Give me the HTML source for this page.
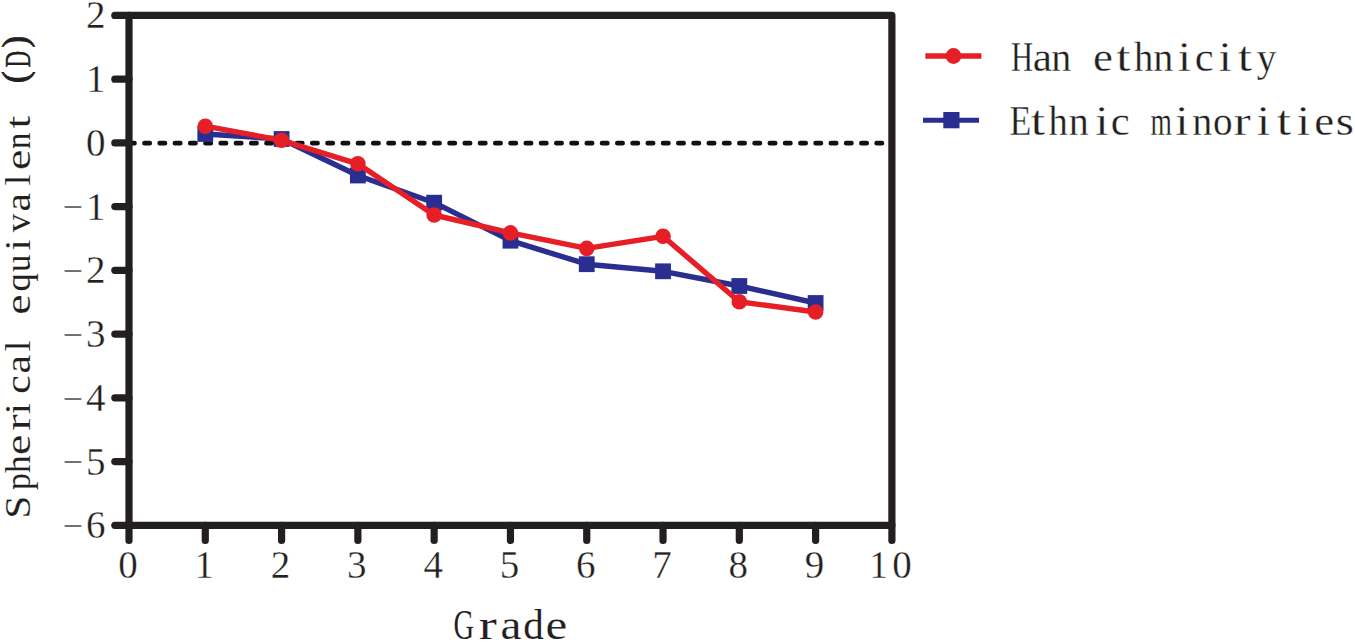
<!DOCTYPE html>
<html><head><meta charset="utf-8"><title>Spherical equivalent by grade</title>
<style>
html,body{margin:0;padding:0;background:#fff;}
body{width:1355px;height:642px;overflow:hidden;}
svg{display:block;}
text{font-family:"Liberation Serif", serif;fill:#231f20;}
.lg{stroke:#fff;stroke-width:0.3px;}
.yl{stroke:#fff;stroke-width:0.1px;}
.tk{stroke:#fff;stroke-width:0.3px;}
.gr{stroke:#fff;stroke-width:0.1px;}
.mn{fill:#333;stroke:#fff;stroke-width:0.55px;}
.pb{stroke:#231f20;stroke-width:0.9px;}
.db{stroke:#231f20;stroke-width:0.4px;}
</style></head>
<body>
<svg width="1355" height="642" viewBox="0 0 1355 642">
<rect width="1355" height="642" fill="#fff"/>
<line x1="126.85" y1="143.18" x2="891" y2="143.18" stroke="#111" stroke-width="4.7" stroke-linecap="round" stroke-dasharray="5.3 9.954" stroke-dashoffset="-2.35"/>
<path d="M129.0,525.3 L129.0,15.4 L891.9,15.4 L891.9,525.3 Z" fill="none" stroke="#231f20" stroke-width="7.2" stroke-linejoin="round"/>
<line x1="114.8" y1="525.30" x2="129.0" y2="525.30" stroke="#231f20" stroke-width="7.2" stroke-linecap="round"/>
<line x1="114.8" y1="461.56" x2="129.0" y2="461.56" stroke="#231f20" stroke-width="7.2" stroke-linecap="round"/>
<line x1="114.8" y1="397.82" x2="129.0" y2="397.82" stroke="#231f20" stroke-width="7.2" stroke-linecap="round"/>
<line x1="114.8" y1="334.09" x2="129.0" y2="334.09" stroke="#231f20" stroke-width="7.2" stroke-linecap="round"/>
<line x1="114.8" y1="270.35" x2="129.0" y2="270.35" stroke="#231f20" stroke-width="7.2" stroke-linecap="round"/>
<line x1="114.8" y1="206.61" x2="129.0" y2="206.61" stroke="#231f20" stroke-width="7.2" stroke-linecap="round"/>
<line x1="114.8" y1="142.88" x2="129.0" y2="142.88" stroke="#231f20" stroke-width="7.2" stroke-linecap="round"/>
<line x1="114.8" y1="79.14" x2="129.0" y2="79.14" stroke="#231f20" stroke-width="7.2" stroke-linecap="round"/>
<line x1="114.8" y1="15.40" x2="129.0" y2="15.40" stroke="#231f20" stroke-width="7.2" stroke-linecap="round"/>
<line x1="129.00" y1="525.3" x2="129.00" y2="540.5" stroke="#231f20" stroke-width="7.2" stroke-linecap="round"/>
<line x1="205.29" y1="525.3" x2="205.29" y2="540.5" stroke="#231f20" stroke-width="7.2" stroke-linecap="round"/>
<line x1="281.58" y1="525.3" x2="281.58" y2="540.5" stroke="#231f20" stroke-width="7.2" stroke-linecap="round"/>
<line x1="357.87" y1="525.3" x2="357.87" y2="540.5" stroke="#231f20" stroke-width="7.2" stroke-linecap="round"/>
<line x1="434.16" y1="525.3" x2="434.16" y2="540.5" stroke="#231f20" stroke-width="7.2" stroke-linecap="round"/>
<line x1="510.45" y1="525.3" x2="510.45" y2="540.5" stroke="#231f20" stroke-width="7.2" stroke-linecap="round"/>
<line x1="586.74" y1="525.3" x2="586.74" y2="540.5" stroke="#231f20" stroke-width="7.2" stroke-linecap="round"/>
<line x1="663.03" y1="525.3" x2="663.03" y2="540.5" stroke="#231f20" stroke-width="7.2" stroke-linecap="round"/>
<line x1="739.32" y1="525.3" x2="739.32" y2="540.5" stroke="#231f20" stroke-width="7.2" stroke-linecap="round"/>
<line x1="815.61" y1="525.3" x2="815.61" y2="540.5" stroke="#231f20" stroke-width="7.2" stroke-linecap="round"/>
<line x1="891.90" y1="525.3" x2="891.90" y2="540.5" stroke="#231f20" stroke-width="7.2" stroke-linecap="round"/>
<polyline points="205.29,134.00 281.58,139.00 357.87,175.50 434.16,202.70 510.45,240.70 586.74,264.20 663.03,271.30 739.32,286.00 815.61,303.00" fill="none" stroke="#2a2e90" stroke-width="5.4" stroke-linejoin="round"/>
<rect x="197.39" y="126.10" width="15.8" height="15.8" fill="#2a2e90"/>
<rect x="273.68" y="131.10" width="15.8" height="15.8" fill="#2a2e90"/>
<rect x="349.97" y="167.60" width="15.8" height="15.8" fill="#2a2e90"/>
<rect x="426.26" y="194.80" width="15.8" height="15.8" fill="#2a2e90"/>
<rect x="502.55" y="232.80" width="15.8" height="15.8" fill="#2a2e90"/>
<rect x="578.84" y="256.30" width="15.8" height="15.8" fill="#2a2e90"/>
<rect x="655.13" y="263.40" width="15.8" height="15.8" fill="#2a2e90"/>
<rect x="731.42" y="278.10" width="15.8" height="15.8" fill="#2a2e90"/>
<rect x="807.71" y="295.10" width="15.8" height="15.8" fill="#2a2e90"/>
<polyline points="205.29,126.20 281.58,140.30 357.87,163.80 434.16,215.00 510.45,232.90 586.74,248.40 663.03,236.30 739.32,301.80 815.61,312.00" fill="none" stroke="#e61f27" stroke-width="5.4" stroke-linejoin="round"/>
<circle cx="205.29" cy="126.20" r="7.8" fill="#e61f27"/>
<circle cx="281.58" cy="140.30" r="7.8" fill="#e61f27"/>
<circle cx="357.87" cy="163.80" r="7.8" fill="#e61f27"/>
<circle cx="434.16" cy="215.00" r="7.8" fill="#e61f27"/>
<circle cx="510.45" cy="232.90" r="7.8" fill="#e61f27"/>
<circle cx="586.74" cy="248.40" r="7.8" fill="#e61f27"/>
<circle cx="663.03" cy="236.30" r="7.8" fill="#e61f27"/>
<circle cx="739.32" cy="301.80" r="7.8" fill="#e61f27"/>
<circle cx="815.61" cy="312.00" r="7.8" fill="#e61f27"/>
<line x1="925.4" y1="56" x2="981.4" y2="56" stroke="#e61f27" stroke-width="5.4"/>
<circle cx="953.5" cy="56" r="7.9" fill="#e61f27"/>
<line x1="923" y1="120.2" x2="979" y2="120.2" stroke="#2a2e90" stroke-width="5"/>
<rect x="943.3" y="112" width="16.2" height="16.3" fill="#2a2e90"/>
<text class="lg" font-size="43"><tspan x="1010.97" y="70.60" textLength="22.08" lengthAdjust="spacingAndGlyphs">H</tspan><tspan x="1032.67" y="70.60" textLength="19.33" lengthAdjust="spacingAndGlyphs">a</tspan><tspan x="1051.33" y="70.60" textLength="20.03" lengthAdjust="spacingAndGlyphs">n</tspan> <tspan x="1093.05" y="70.60" textLength="19.91" lengthAdjust="spacingAndGlyphs">e</tspan><tspan x="1116.15" y="70.60" textLength="14.30" lengthAdjust="spacingAndGlyphs">t</tspan><tspan x="1133.92" y="70.60" textLength="19.29" lengthAdjust="spacingAndGlyphs">h</tspan><tspan x="1153.33" y="70.60" textLength="20.03" lengthAdjust="spacingAndGlyphs">n</tspan><tspan x="1177.89" y="70.60" textLength="13.32" lengthAdjust="spacingAndGlyphs">i</tspan><tspan x="1194.67" y="70.60" textLength="18.94" lengthAdjust="spacingAndGlyphs">c</tspan><tspan x="1218.49" y="70.60" textLength="13.32" lengthAdjust="spacingAndGlyphs">i</tspan><tspan x="1237.85" y="70.60" textLength="14.30" lengthAdjust="spacingAndGlyphs">t</tspan><tspan x="1256.82" y="70.60" textLength="19.63" lengthAdjust="spacingAndGlyphs">y</tspan></text>
<text class="lg" font-size="43"><tspan x="1009.47" y="134.80" textLength="21.81" lengthAdjust="spacingAndGlyphs">E</tspan><tspan x="1030.75" y="134.80" textLength="14.30" lengthAdjust="spacingAndGlyphs">t</tspan><tspan x="1048.62" y="134.80" textLength="19.29" lengthAdjust="spacingAndGlyphs">h</tspan><tspan x="1068.63" y="134.80" textLength="20.03" lengthAdjust="spacingAndGlyphs">n</tspan><tspan x="1095.29" y="134.80" textLength="13.32" lengthAdjust="spacingAndGlyphs">i</tspan><tspan x="1110.67" y="134.80" textLength="18.94" lengthAdjust="spacingAndGlyphs">c</tspan> <tspan x="1150.42" y="134.80" textLength="21.41" lengthAdjust="spacingAndGlyphs">m</tspan><tspan x="1175.19" y="134.80" textLength="13.32" lengthAdjust="spacingAndGlyphs">i</tspan><tspan x="1192.13" y="134.80" textLength="20.03" lengthAdjust="spacingAndGlyphs">n</tspan><tspan x="1212.91" y="134.80" textLength="19.58" lengthAdjust="spacingAndGlyphs">o</tspan><tspan x="1233.83" y="134.80" textLength="16.97" lengthAdjust="spacingAndGlyphs">r</tspan><tspan x="1256.89" y="134.80" textLength="13.32" lengthAdjust="spacingAndGlyphs">i</tspan><tspan x="1276.75" y="134.80" textLength="14.30" lengthAdjust="spacingAndGlyphs">t</tspan><tspan x="1296.79" y="134.80" textLength="13.32" lengthAdjust="spacingAndGlyphs">i</tspan><tspan x="1314.15" y="134.80" textLength="19.91" lengthAdjust="spacingAndGlyphs">e</tspan><tspan x="1335.84" y="134.80" textLength="18.09" lengthAdjust="spacingAndGlyphs">s</tspan></text>
<text class="gr" font-size="42"><tspan x="453.38" y="638.50" textLength="20.56" lengthAdjust="spacingAndGlyphs">G</tspan><tspan x="478.66" y="638.50" textLength="18.06" lengthAdjust="spacingAndGlyphs">r</tspan><tspan x="500.54" y="638.50" textLength="20.90" lengthAdjust="spacingAndGlyphs">a</tspan><tspan x="523.21" y="638.50" textLength="20.59" lengthAdjust="spacingAndGlyphs">d</tspan><tspan x="545.54" y="638.50" textLength="21.71" lengthAdjust="spacingAndGlyphs">e</tspan></text>
<text class="yl" transform="rotate(-90)" font-size="35"><tspan x="-518.69" y="30.00" textLength="23.17" lengthAdjust="spacingAndGlyphs">S</tspan><tspan x="-490.04" y="30.00" textLength="16.86" lengthAdjust="spacingAndGlyphs">p</tspan><tspan x="-473.14" y="30.00" textLength="17.61" lengthAdjust="spacingAndGlyphs">h</tspan><tspan x="-455.09" y="30.00" textLength="20.39" lengthAdjust="spacingAndGlyphs">e</tspan><tspan x="-430.89" y="30.00" textLength="16.42" lengthAdjust="spacingAndGlyphs">r</tspan><tspan x="-414.19" y="30.00" textLength="11.10" lengthAdjust="spacingAndGlyphs">i</tspan><tspan x="-393.88" y="30.00" textLength="18.46" lengthAdjust="spacingAndGlyphs">c</tspan><tspan x="-373.62" y="30.00" textLength="18.54" lengthAdjust="spacingAndGlyphs">a</tspan><tspan x="-351.55" y="30.00" textLength="11.10" lengthAdjust="spacingAndGlyphs">l</tspan> <tspan x="-314.79" y="30.00" textLength="20.39" lengthAdjust="spacingAndGlyphs">e</tspan><tspan x="-291.47" y="30.00" textLength="18.28" lengthAdjust="spacingAndGlyphs">q</tspan><tspan x="-272.11" y="30.00" textLength="17.35" lengthAdjust="spacingAndGlyphs">u</tspan><tspan x="-250.59" y="30.00" textLength="11.10" lengthAdjust="spacingAndGlyphs">i</tspan><tspan x="-232.25" y="30.00" textLength="18.50" lengthAdjust="spacingAndGlyphs">v</tspan><tspan x="-211.52" y="30.00" textLength="18.54" lengthAdjust="spacingAndGlyphs">a</tspan><tspan x="-185.55" y="30.00" textLength="11.10" lengthAdjust="spacingAndGlyphs">l</tspan><tspan x="-170.09" y="30.00" textLength="20.39" lengthAdjust="spacingAndGlyphs">e</tspan><tspan x="-148.95" y="30.00" textLength="16.24" lengthAdjust="spacingAndGlyphs">n</tspan><tspan x="-128.45" y="30.00" textLength="12.72" lengthAdjust="spacingAndGlyphs">t</tspan> <tspan class="pb" x="-82.93" y="27.00">(</tspan><tspan class="db" x="-67.46" y="30.00" textLength="16.58" lengthAdjust="spacingAndGlyphs">D</tspan><tspan class="pb" x="-47.42" y="27.00">)</tspan></text>
<text font-size="39" class="tk"><tspan class="mn" x="62.56" y="539.00" textLength="20.85" lengthAdjust="spacingAndGlyphs">−</tspan><tspan x="86.00" y="538.30">6</tspan></text>
<text font-size="39" class="tk"><tspan class="mn" x="62.56" y="475.26" textLength="20.85" lengthAdjust="spacingAndGlyphs">−</tspan><tspan x="86.00" y="474.56">5</tspan></text>
<text font-size="39" class="tk"><tspan class="mn" x="62.56" y="411.52" textLength="20.85" lengthAdjust="spacingAndGlyphs">−</tspan><tspan x="86.00" y="410.82">4</tspan></text>
<text font-size="39" class="tk"><tspan class="mn" x="62.56" y="347.79" textLength="20.85" lengthAdjust="spacingAndGlyphs">−</tspan><tspan x="86.00" y="347.09">3</tspan></text>
<text font-size="39" class="tk"><tspan class="mn" x="62.56" y="284.05" textLength="20.85" lengthAdjust="spacingAndGlyphs">−</tspan><tspan x="86.00" y="283.35">2</tspan></text>
<text font-size="39" class="tk"><tspan class="mn" x="62.56" y="220.31" textLength="20.85" lengthAdjust="spacingAndGlyphs">−</tspan><tspan x="86.00" y="219.61">1</tspan></text>
<text font-size="39" class="tk"><tspan x="86.00" y="155.88">0</tspan></text>
<text font-size="39" class="tk"><tspan x="86.00" y="92.14">1</tspan></text>
<text font-size="39" class="tk"><tspan x="86.00" y="28.40">2</tspan></text>
<text x="128.00" y="577.8" font-size="39" text-anchor="middle" class="tk">0</text>
<text x="204.29" y="577.8" font-size="39" text-anchor="middle" class="tk">1</text>
<text x="280.58" y="577.8" font-size="39" text-anchor="middle" class="tk">2</text>
<text x="356.87" y="577.8" font-size="39" text-anchor="middle" class="tk">3</text>
<text x="433.16" y="577.8" font-size="39" text-anchor="middle" class="tk">4</text>
<text x="509.45" y="577.8" font-size="39" text-anchor="middle" class="tk">5</text>
<text x="585.74" y="577.8" font-size="39" text-anchor="middle" class="tk">6</text>
<text x="662.03" y="577.8" font-size="39" text-anchor="middle" class="tk">7</text>
<text x="738.32" y="577.8" font-size="39" text-anchor="middle" class="tk">8</text>
<text x="814.61" y="577.8" font-size="39" text-anchor="middle" class="tk">9</text>
<text class="tk" font-size="39"><tspan x="869.30" y="577.80" textLength="18.75" lengthAdjust="spacingAndGlyphs">1</tspan><tspan x="892.25" y="577.80">0</tspan></text>
</svg>
</body></html>
